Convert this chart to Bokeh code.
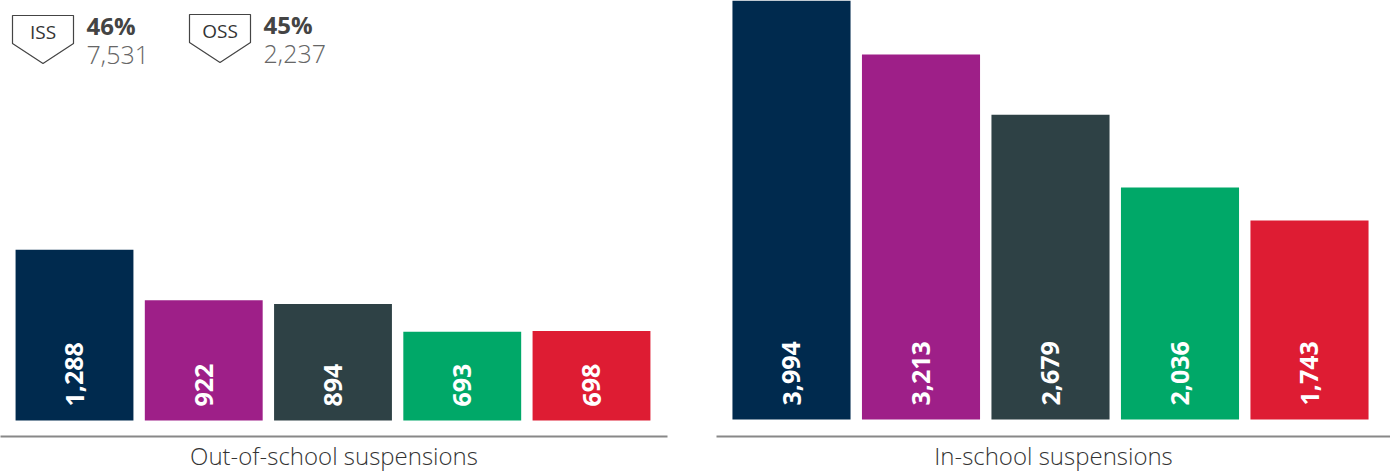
from bokeh.plotting import figure
from bokeh.layouts import row
from bokeh.models import Range1d, ColumnDataSource, Label, PolyAnnotation, FixedTicker
from bokeh.core.properties import value
from bokeh.embed import file_html
from bokeh.resources import INLINE

colors = ["#002A4E", "#9E1F88", "#2E4145", "#00A868", "#DE1C33"]
oss_values = [1288, 922, 894, 693, 698]
iss_values = [3994, 3213, 2679, 2036, 1743]
positions = [0, 1, 2, 3, 4]
oss_title = "Out-of-school suspensions"
iss_title = "In-school suspensions"
legend_items = [("ISS", "46%", "7,531"), ("OSS", "45%", "2,237")]
FONT = "Open Sans"
LIGHT = "Open Sans Light, Open Sans"
FH = 436


def panel(vals, title, width, x_range, y_range, base, ml, mr):
    p = figure(width=width, height=474, x_range=x_range, y_range=y_range,
               output_backend="svg", toolbar_location=None,
               min_border_left=ml, min_border_right=mr, min_border_top=0, min_border_bottom=38,
               outline_line_color=None, background_fill_color="white", border_fill_color="white")
    p.grid.visible = False
    p.yaxis.visible = False
    ax = p.xaxis[0]
    ax.ticker = FixedTicker(ticks=[])
    ax.major_tick_line_color = None
    ax.minor_tick_line_color = None
    ax.major_tick_out = 0
    ax.major_label_standoff = 0
    ax.axis_line_color = "#888888"
    ax.axis_line_width = 2
    ax.axis_label = title
    ax.axis_label_text_font = LIGHT
    ax.axis_label_text_font_style = "normal"
    ax.axis_label_text_font_size = "24px"
    ax.axis_label_text_color = "#333333"
    ax.axis_label_standoff = 2
    src = ColumnDataSource(dict(x=positions, top=vals, c=colors, label=[f"{v:,}" for v in vals], b=[base] * 5))
    p.vbar(x="x", top="top", bottom="b", width=118 / 129.4, fill_color="c", line_color=None, source=src)
    p.text(x="x", y="b", text="label", source=src, angle=1.5708, text_color="white",
           text_font=value(FONT), text_font_style="bold", text_font_size="25px",
           text_align="left", text_baseline="middle", y_offset=-14)
    return p


left = panel(oss_values, oss_title, 695, Range1d(-74 / 129.25, (667 - 74) / 129.25),
             Range1d(-67, 3097), 49, 0, 28)
right = panel(iss_values, iss_title, 695, Range1d((716 - 791) / 129.5, (1390 - 791) / 129.5),
              Range1d(-169.6, 3691), -19, 21, 0)

for (name, pct, cnt), bx, top in zip(legend_items, [12, 189], [15, 14]):
    w = 61
    ys = [top, top, top + 28, top + 48, top + 28]
    left.add_layout(PolyAnnotation(xs=[bx, bx + w, bx + w, bx + w / 2, bx], ys=[FH - v for v in ys],
                                   xs_units="screen", ys_units="screen", fill_color=None, fill_alpha=0,
                                   line_color="#444444", line_alpha=1, line_width=1.2))
    left.add_layout(Label(x=bx + w / 2, y=FH - top - 16, x_units="screen", y_units="screen", text=name, text_align="center",
                          text_baseline="middle", text_font=FONT, text_font_size="19px", text_color="#333333"))
    left.add_layout(Label(x=bx + 74, y=FH - top - 10, x_units="screen", y_units="screen", text=pct, text_align="left",
                          text_baseline="middle", text_font=FONT, text_font_style="bold", text_font_size="24px", text_color="#444444"))
    left.add_layout(Label(x=bx + 74, y=FH - top - 39, x_units="screen", y_units="screen", text=cnt, text_align="left",
                          text_baseline="middle", text_font=LIGHT, text_font_size="25px", text_color="#666666"))

p = row(left, right)
open("out.html", "w").write(file_html(p, INLINE))
